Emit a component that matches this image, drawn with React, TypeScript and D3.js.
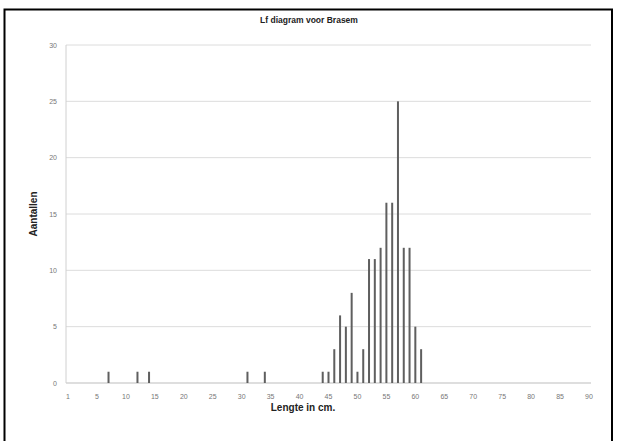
import React from "react";
import * as d3 from "d3";

// Length-frequency data for bream (Brasem)
const lengths: number[] = [7, 12, 14, 31, 34, 44, 45, 46, 47, 48, 49, 50, 51, 52, 53, 54, 55, 56, 57, 58, 59, 60, 61];
const counts: number[] = [1, 1, 1, 1, 1, 1, 1, 3, 6, 5, 8, 1, 3, 11, 11, 12, 16, 16, 25, 12, 12, 5, 3];

const xTickValues: number[] = [0, 5, 10, 15, 20, 25, 30, 35, 40, 45, 50, 55, 60, 65, 70, 75, 80, 85, 90];
const xTickLabels: string[] = ["1", "5", "10", "15", "20", "25", "30", "35", "40", "45", "50", "55", "60", "65", "70", "75", "80", "85", "90"];
const yTickValues: number[] = [0, 5, 10, 15, 20, 25, 30];

const title = "Lf diagram voor Brasem";
const xTitle = "Lengte in cm.";
const yTitle = "Aantallen";

const W = 617;
const H = 441;
const plot = { left: 67, right: 589, top: 45, bottom: 383 };

export default function App() {
  const x = d3.scaleLinear().domain([0, 90]).range([plot.left + 1, plot.right]);
  const y = d3.scaleLinear().domain([0, 30]).range([plot.bottom, plot.top]);
  const font = "'Liberation Sans', Arial, sans-serif";

  return (
    <svg
      width={W}
      height={H}
      viewBox={`0 0 ${W} ${H}`}
      style={{ position: "absolute", left: 0, top: 0, background: "#fff" }}
    >
      <rect x={0} y={0} width={W} height={H} fill="#fff" />
      {/* chart frame */}
      <rect x={4.5} y={9.5} width={607.5} height={445} fill="none" stroke="#000" strokeWidth={2} />

      <text x={309} y={23} textAnchor="middle" fontFamily={font} fontSize={8.5} fontWeight="bold" fill="#222">
        {title}
      </text>

      {/* horizontal gridlines */}
      {yTickValues.map((v) => (
        <line
          key={"g" + v}
          x1={plot.left - 1}
          x2={plot.right + 2}
          y1={y(v)}
          y2={y(v)}
          stroke={v === 0 ? "#bdbdbd" : "#dcdcdc"}
          strokeWidth={1}
        />
      ))}
      <line x1={plot.left - 1} x2={plot.left - 1} y1={plot.top} y2={plot.bottom} stroke="#d0d0d0" strokeWidth={1} />

      {yTickValues.map((v) => (
        <text key={"yt" + v} x={57} y={y(v) + 2.5} textAnchor="end" fontFamily={font} fontSize={7} fill="#777">
          {v}
        </text>
      ))}
      {xTickValues.map((v, i) => (
        <text key={"xt" + v} x={x(v)} y={399} textAnchor="middle" fontFamily={font} fontSize={7} fill="#777">
          {xTickLabels[i]}
        </text>
      ))}

      {/* frequency bars */}
      {lengths.map((l, i) => (
        <rect
          key={"b" + l}
          x={x(l) - 1}
          y={y(counts[i])}
          width={2}
          height={y(0) - y(counts[i])}
          fill="#5f5f5f"
        />
      ))}

      <text x={303} y={411} textAnchor="middle" fontFamily={font} fontSize={10} fontWeight="bold" fill="#222">
        {xTitle}
      </text>
      <text
        transform={`translate(37, 214) rotate(-90)`}
        textAnchor="middle"
        fontFamily={font}
        fontSize={10}
        fontWeight="bold"
        fill="#222"
      >
        {yTitle}
      </text>
    </svg>
  );
}
